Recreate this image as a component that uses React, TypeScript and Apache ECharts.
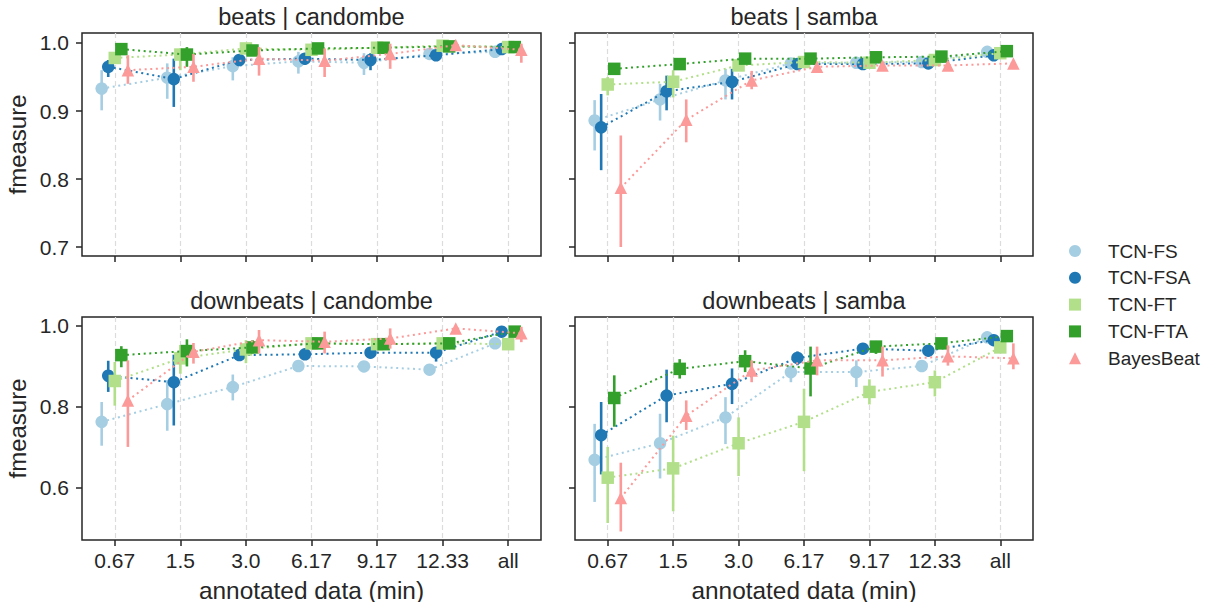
import { useEffect, useRef } from "react";
import * as echarts from "echarts";

const categories = ["0.67", "1.5", "3.0", "6.17", "9.17", "12.33", "all"];
const methods = ["TCN-FS", "TCN-FSA", "TCN-FT", "TCN-FTA", "BayesBeat"];
const colors = ["#a6cee3", "#1f78b4", "#b2df8a", "#33a02c", "#fb9a99"];
const symbols = ["circle", "circle", "rect", "rect", "triangle"];
const dodgeOffsets = [-0.2, -0.1, 0, 0.1, 0.2];
const panelTitles = ["beats | candombe", "beats | samba", "downbeats | candombe", "downbeats | samba"];
const beatsTicks = [0.7, 0.8, 0.9, 1.0];
const downbeatsTicks = [0.6, 0.8, 1.0];

// each entry: [mean, ci low, ci high]
const beatsCandombeFS = [[0.933, 0.901, 0.96], [0.949, 0.918, 0.97], [0.966, 0.945, 0.979], [0.973, 0.955, 0.987], [0.971, 0.953, 0.985], [0.984, 0.978, 0.989], [0.987, 0.982, 0.992]];
const beatsCandombeFSA = [[0.965, 0.95, 0.975], [0.947, 0.906, 0.977], [0.975, 0.968, 0.982], [0.977, 0.968, 0.985], [0.975, 0.96, 0.985], [0.982, 0.977, 0.987], [0.991, 0.987, 0.994]];
const beatsCandombeFT = [[0.978, 0.972, 0.984], [0.983, 0.96, 0.992], [0.992, 0.988, 0.995], [0.99, 0.985, 0.994], [0.993, 0.99, 0.996], [0.996, 0.993, 0.998], [0.994, 0.991, 0.997]];
const beatsCandombeFTA = [[0.991, 0.987, 0.995], [0.983, 0.965, 0.994], [0.989, 0.985, 0.993], [0.992, 0.989, 0.995], [0.993, 0.99, 0.996], [0.995, 0.992, 0.997], [0.994, 0.991, 0.997]];
const beatsCandombeBB = [[0.96, 0.94, 0.982], [0.965, 0.943, 0.984], [0.977, 0.952, 0.994], [0.974, 0.95, 0.992], [0.984, 0.962, 0.999], [0.997, 0.994, 0.999], [0.99, 0.971, 0.999]];

const beatsSambaFS = [[0.886, 0.842, 0.916], [0.917, 0.886, 0.94], [0.945, 0.917, 0.962], [0.97, 0.966, 0.974], [0.971, 0.967, 0.975], [0.972, 0.968, 0.976], [0.987, 0.984, 0.99]];
const beatsSambaFSA = [[0.876, 0.813, 0.925], [0.929, 0.901, 0.952], [0.943, 0.917, 0.962], [0.969, 0.965, 0.973], [0.969, 0.965, 0.973], [0.97, 0.966, 0.974], [0.982, 0.978, 0.986]];
const beatsSambaFT = [[0.939, 0.923, 0.95], [0.943, 0.92, 0.96], [0.967, 0.96, 0.974], [0.972, 0.968, 0.976], [0.971, 0.967, 0.975], [0.975, 0.971, 0.979], [0.985, 0.982, 0.988]];
const beatsSambaFTA = [[0.962, 0.958, 0.966], [0.969, 0.965, 0.973], [0.977, 0.973, 0.981], [0.977, 0.973, 0.981], [0.979, 0.975, 0.983], [0.98, 0.976, 0.984], [0.988, 0.985, 0.991]];
const beatsSambaBB = [[0.787, 0.7, 0.864], [0.887, 0.854, 0.917], [0.945, 0.932, 0.959], [0.965, 0.961, 0.969], [0.967, 0.963, 0.971], [0.967, 0.963, 0.971], [0.97, 0.966, 0.974]];

const downbeatsCandombeFS = [[0.763, 0.704, 0.812], [0.807, 0.741, 0.866], [0.849, 0.816, 0.88], [0.901, 0.896, 0.906], [0.9, 0.895, 0.905], [0.892, 0.887, 0.897], [0.957, 0.948, 0.964]];
const downbeatsCandombeFSA = [[0.877, 0.837, 0.914], [0.861, 0.754, 0.929], [0.928, 0.915, 0.94], [0.93, 0.925, 0.935], [0.934, 0.929, 0.939], [0.934, 0.912, 0.948], [0.986, 0.982, 0.99]];
const downbeatsCandombeFT = [[0.864, 0.803, 0.911], [0.92, 0.882, 0.953], [0.942, 0.908, 0.965], [0.957, 0.952, 0.962], [0.955, 0.95, 0.96], [0.957, 0.952, 0.962], [0.955, 0.945, 0.962]];
const downbeatsCandombeFTA = [[0.928, 0.898, 0.95], [0.938, 0.9, 0.967], [0.947, 0.932, 0.965], [0.957, 0.952, 0.962], [0.955, 0.95, 0.96], [0.957, 0.952, 0.962], [0.986, 0.982, 0.99]];
const downbeatsCandombeBB = [[0.816, 0.701, 0.915], [0.936, 0.907, 0.958], [0.965, 0.932, 0.99], [0.961, 0.932, 0.986], [0.969, 0.944, 0.994], [0.994, 0.99, 0.998], [0.982, 0.96, 0.998]];

const downbeatsSambaFS = [[0.669, 0.565, 0.758], [0.71, 0.623, 0.783], [0.774, 0.708, 0.824], [0.886, 0.861, 0.902], [0.886, 0.849, 0.915], [0.901, 0.893, 0.909], [0.972, 0.966, 0.977]];
const downbeatsSambaFSA = [[0.73, 0.633, 0.812], [0.828, 0.762, 0.892], [0.857, 0.807, 0.895], [0.921, 0.903, 0.937], [0.944, 0.937, 0.95], [0.939, 0.925, 0.95], [0.965, 0.958, 0.972]];
const downbeatsSambaFT = [[0.625, 0.513, 0.701], [0.648, 0.542, 0.729], [0.71, 0.629, 0.774], [0.763, 0.641, 0.845], [0.837, 0.806, 0.868], [0.861, 0.826, 0.89], [0.947, 0.933, 0.961]];
const downbeatsSambaFTA = [[0.822, 0.751, 0.878], [0.894, 0.87, 0.918], [0.913, 0.886, 0.94], [0.895, 0.826, 0.949], [0.949, 0.931, 0.963], [0.957, 0.948, 0.965], [0.975, 0.968, 0.981]];
const downbeatsSambaBB = [[0.575, 0.492, 0.662], [0.778, 0.743, 0.816], [0.89, 0.861, 0.915], [0.915, 0.878, 0.949], [0.915, 0.875, 0.949], [0.925, 0.902, 0.952], [0.92, 0.893, 0.957]];

const panelData = [
  [beatsCandombeFS, beatsCandombeFSA, beatsCandombeFT, beatsCandombeFTA, beatsCandombeBB],
  [beatsSambaFS, beatsSambaFSA, beatsSambaFT, beatsSambaFTA, beatsSambaBB],
  [downbeatsCandombeFS, downbeatsCandombeFSA, downbeatsCandombeFT, downbeatsCandombeFTA, downbeatsCandombeBB],
  [downbeatsSambaFS, downbeatsSambaFSA, downbeatsSambaFT, downbeatsSambaFTA, downbeatsSambaBB],
];

const FONT = "'Liberation Sans', Arial, Helvetica, sans-serif";
const INK = "#262626";

export default function App() {
  const ref = useRef<HTMLDivElement>(null);

  useEffect(() => {
    if (!ref.current) return;
    const chart = echarts.init(ref.current, undefined, { renderer: "svg" });

    const grids = [
      { left: 82, top: 33, width: 459, height: 223 },
      { left: 575, top: 33, width: 458, height: 223 },
      { left: 82, top: 317, width: 459, height: 223 },
      { left: 575, top: 317, width: 458, height: 223 },
    ];
    const yRanges = [
      [0.6868, 1.0147],
      [0.6868, 1.0147],
      [0.4709, 1.0222],
      [0.4709, 1.0222],
    ];
    const catIdx = categories.map((_, i) => i);

    const xAxis = grids.map((_, p) => ({
      type: "value",
      gridIndex: p,
      min: -0.5,
      max: 6.5,
      axisLine: { show: false, onZero: false },
      axisTick: { show: true, customValues: catIdx, length: 6, lineStyle: { color: INK, width: 1.5 } },
      axisLabel: {
        show: p >= 2,
        customValues: catIdx,
        formatter: (v: number) => categories[Math.round(v)] ?? "",
        color: INK,
        fontSize: 21,
        fontFamily: FONT,
        margin: 10,
      },
      splitLine: { show: true, lineStyle: { color: "#dcdcdc", width: 1.2, type: [5, 3] } },
    }));

    const yAxis = grids.map((_, p) => {
      const ticks = p < 2 ? beatsTicks : downbeatsTicks;
      return {
        type: "value",
        gridIndex: p,
        min: yRanges[p][0],
        max: yRanges[p][1],
        axisLine: { show: false, onZero: false },
        axisTick: { show: true, customValues: ticks, length: 6, lineStyle: { color: INK, width: 1.5 } },
        axisLabel: {
          show: p % 2 === 0,
          customValues: ticks,
          formatter: (v: number) => v.toFixed(1),
          color: INK,
          fontSize: 21,
          fontFamily: FONT,
          margin: 13,
        },
        splitLine: { show: false },
      };
    });

    const series: any[] = [];
    panelData.forEach((panel, p) => {
      panel.forEach((rows, m) => {
        const off = dodgeOffsets[m];
        series.push({
          type: "line",
          name: methods[m],
          xAxisIndex: p,
          yAxisIndex: p,
          data: rows.map((r, i) => [i + off, r[0]]),
          symbol: symbols[m],
          symbolSize: 12.5,
          showSymbol: true,
          lineStyle: { color: colors[m], width: 2, type: [2, 3.6] },
          itemStyle: { color: colors[m], borderWidth: 0 },
          emphasis: { disabled: true },
          z: 10 + m * 2 + 1,
        });
        series.push({
          type: "custom",
          xAxisIndex: p,
          yAxisIndex: p,
          data: rows.map((r, i) => [i + off, r[1], r[2]]),
          encode: { x: 0, y: [1, 2] },
          itemStyle: { color: colors[m] },
          renderItem: (params: any, api: any) => {
            const x = api.value(0);
            const a = api.coord([x, api.value(1)]);
            const b = api.coord([x, api.value(2)]);
            return {
              type: "line",
              shape: { x1: a[0], y1: a[1], x2: b[0], y2: b[1] },
              style: { stroke: colors[m], lineWidth: 2.6 },
            };
          },
          silent: true,
          z: 10 + m * 2,
        });
      });
    });

    const graphic: any[] = [];
    panelTitles.forEach((t, p) => {
      const g = grids[p];
      graphic.push({
        type: "text",
        x: g.left + g.width / 2,
        y: g.top - 16,
        style: { text: t, fill: INK, font: `23.5px ${FONT}`, align: "center", verticalAlign: "middle" },
      });
    });
    [0, 2].forEach((p) => {
      const g = grids[p];
      graphic.push({
        type: "text",
        x: 17,
        y: g.top + g.height / 2,
        rotation: Math.PI / 2,
        style: { text: "fmeasure", fill: INK, font: `24px ${FONT}`, align: "center", verticalAlign: "middle" },
      });
    });
    [2, 3].forEach((p) => {
      const g = grids[p];
      graphic.push({
        type: "text",
        x: g.left + g.width / 2,
        y: 590,
        style: { text: "annotated data (min)", fill: INK, font: `24.4px ${FONT}`, align: "center", verticalAlign: "middle" },
      });
    });

    chart.setOption({
      animation: false,
      grid: grids.map((g) => ({ ...g, show: true, borderColor: INK, borderWidth: 1.5, backgroundColor: "transparent", containLabel: false })),
      xAxis,
      yAxis,
      series,
      graphic,
      legend: {
        orient: "vertical",
        left: 1064,
        top: 236,
        itemWidth: 12,
        itemHeight: 12,
        itemGap: 6.8,
        data: methods.map((name, i) => ({ name, icon: symbols[i] })),
        textStyle: { color: INK, fontSize: 19, fontFamily: FONT, lineHeight: 20, padding: [0, 0, 0, 22] },
      },
    });

    return () => chart.dispose();
  }, []);

  return <div ref={ref} style={{ position: "absolute", left: 0, top: 0, width: 1205, height: 602 }} />;
}
